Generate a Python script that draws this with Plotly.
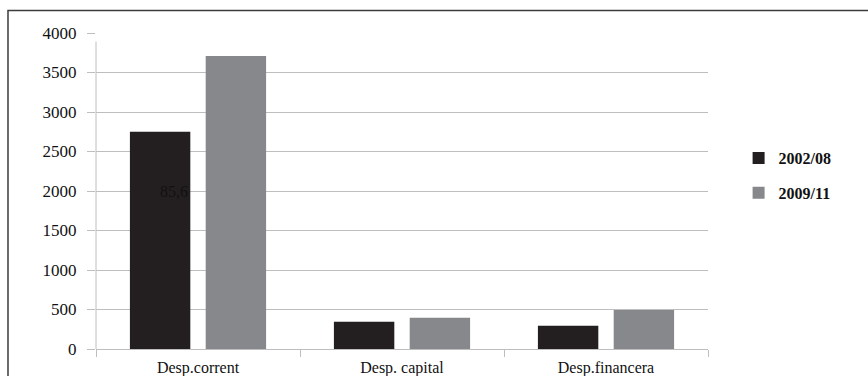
import plotly.graph_objects as go

# Spending by chapter, two periods
categories = ["Desp.corrent", "Desp. capital", "Desp.financera"]
series_names = ["2002/08", "2009/11"]
values_2002_08 = [2750, 345, 295]
values_2009_11 = [3710, 396, 493]
y_ticks = [0, 500, 1000, 1500, 2000, 2500, 3000, 3500, 4000]
note_text = "85,6"
note_y = 2000

grid_color = "#BEBEBE"
serif = "Liberation Serif"

fig = go.Figure()
fig.add_trace(go.Bar(
    x=categories, y=values_2002_08, name=series_names[0],
    marker=dict(color="#231F20", line=dict(width=0)), legendgroup="a",
))
fig.add_trace(go.Bar(
    x=categories, y=values_2009_11, name=series_names[1],
    marker=dict(color="#87888C", line=dict(width=0)), legendgroup="b",
))

# Label sitting against the right edge of the first dark bar
fig.add_annotation(
    x=categories[0], y=note_y, xref="x", yref="y",
    text=note_text, showarrow=False, xanchor="right", yanchor="middle",
    xshift=-8, font=dict(family=serif, size=16, color="#111111"),
)

# Outer frame (left and top edges) and the vertical value axis line
fig.add_shape(type="path", xref="paper", yref="paper",
              path="M -0.1438,-0.2 L -0.1438,1.0712 L 1.35,1.0712",
              line=dict(color="#3C3C3C", width=1.5))
fig.add_shape(type="line", xref="paper", yref="paper",
              x0=0, x1=0, y0=0, y1=0.973,
              line=dict(color=grid_color, width=1))

fig.update_layout(
    width=868, height=376,
    margin=dict(l=96, r=160, t=33, b=27),
    paper_bgcolor="white", plot_bgcolor="white",
    barmode="group", bargap=0.257, bargroupgap=0.203,
    font=dict(family=serif, size=17, color="#111111"),
    showlegend=True,
    legend=dict(
        x=1.050, y=0.549, xanchor="left", yanchor="middle",
        font=dict(family=serif, size=16, color="#111111", weight="bold"),
        tracegroupgap=11, bgcolor="rgba(0,0,0,0)",
    ),
    xaxis=dict(
        type="category", showgrid=False, showline=True, linecolor=grid_color,
        linewidth=1, ticks="outside", tickson="boundaries", ticklen=7,
        tickcolor=grid_color, tickfont=dict(family=serif, size=16, color="#111111"),
        ticklabelstandoff=4, automargin=False, fixedrange=True,
    ),
    yaxis=dict(
        range=[0, 4000], tickvals=y_ticks, showgrid=True, gridcolor=grid_color,
        gridwidth=1, showline=False, zeroline=False, ticks="outside",
        ticklen=8, tickcolor=grid_color, ticklabelstandoff=7,
        tickfont=dict(family=serif, size=17, color="#111111"),
        automargin=False,
    ),
)

fig.write_html("out.html")
